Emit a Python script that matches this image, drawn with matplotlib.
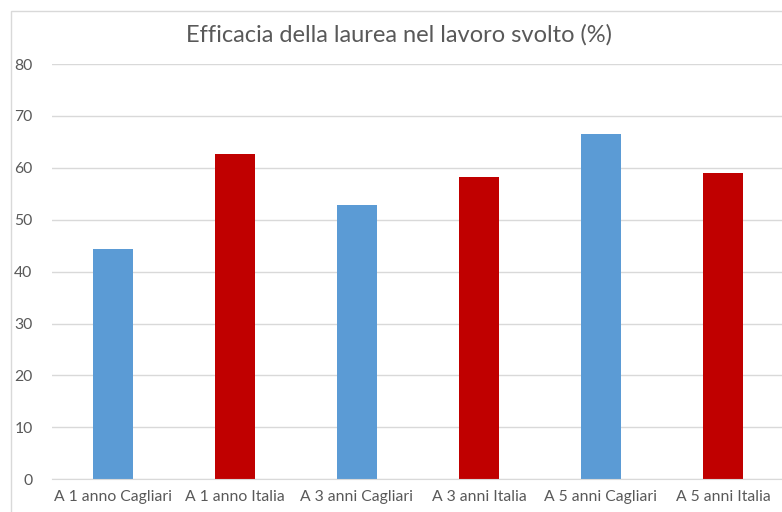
import matplotlib
matplotlib.use("Agg")
import matplotlib.pyplot as plt
from matplotlib.patches import Rectangle

categories = ["A 1 anno Cagliari", "A 1 anno Italia", "A 3 anni Cagliari",
              "A 3 anni Italia", "A 5 anni Cagliari", "A 5 anni Italia"]
values = [44.3, 62.7, 52.8, 58.3, 66.6, 59.0]
colors = ["#5B9BD5", "#C00000", "#5B9BD5", "#C00000", "#5B9BD5", "#C00000"]
yticks = [0, 10, 20, 30, 40, 50, 60, 70, 80]

plt.rcParams['font.family'] = ['Lato', 'DejaVu Sans']

W, H = 782, 512
fig = plt.figure(figsize=(W / 100, H / 100), dpi=100)
fig.patch.set_facecolor("white")

# chart border
fig.add_artist(Rectangle((11 / W, -0.1), 1.2, (H - 11) / H + 0.1, transform=fig.transFigure,
                         fill=False, edgecolor="#D9D9D9", linewidth=1))

left, right = 52, 784
bottom, top = 479.3, 64
ax = fig.add_axes([left / W, 1 - bottom / H, (right - left) / W, (bottom - top) / H])

x = list(range(len(categories)))
ax.bar(x, values, width=0.32, color=colors, zorder=3)
ax.set_xlim(-0.5, len(categories) - 0.5)
ax.set_ylim(0, 80)
ax.set_yticks(yticks)
ax.set_xticks(x)
ax.set_xticklabels(categories)
ax.grid(axis="y", color="#D9D9D9", linewidth=1, zorder=0)
for s in ["top", "right", "left"]:
    ax.spines[s].set_visible(False)
ax.spines["bottom"].set_color("#D9D9D9")
ax.spines["bottom"].set_zorder(4)
ax.tick_params(axis="both", length=0, labelsize=11.3, labelcolor="#595959")
ax.tick_params(axis="y", pad=14)
ax.tick_params(axis="x", pad=8)

fig.text(399 / W, 1 - 35 / H, "Efficacia della laurea nel lavoro svolto (%)",
         ha="center", va="center", fontsize=17, color="#595959")

fig.savefig("out.png", dpi=100)
